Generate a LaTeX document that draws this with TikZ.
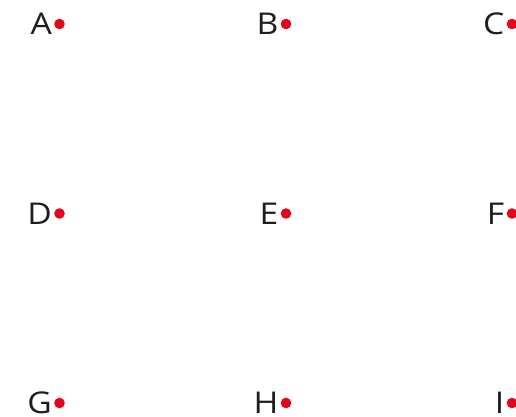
\documentclass[tikz,border=0pt]{standalone}
\usepackage{fontspec}
\setmainfont{Open Sans}
\newfontfamily\lblfont[FakeStretch=1.12]{Open Sans}
\definecolor{dotred}{HTML}{E3061A}
\definecolor{txt}{HTML}{1E1E1E}
\begin{document}
\begin{tikzpicture}[x=1pt,y=-1pt,
  pt/.style={circle,fill=dotred,inner sep=0pt,minimum size=10.6pt},
  lbl/.style={text=txt,font=\lblfont\fontsize{30}{30}\selectfont,inner sep=0pt}]
\clip (0,0) rectangle (516,416);
\fill[white] (0,0) rectangle (516,416);
\foreach \n/\x/\y in {A/59.5/24,B/286/24,C/512/24,D/59.5/213.5,E/286/213.5,F/512/213.5,G/59.5/403,H/286/403,I/512/403}{
  \node[pt,label={[lbl,label distance=2pt]left:\n}] (\n) at (\x,\y) {};
}
\end{tikzpicture}
\end{document}
